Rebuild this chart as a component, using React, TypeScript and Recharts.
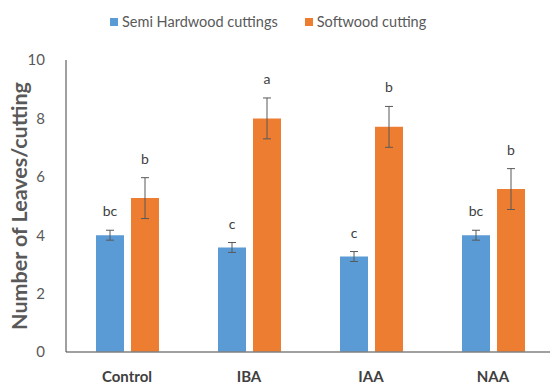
import {
  BarChart,
  Bar,
  XAxis,
  YAxis,
  ErrorBar,
  LabelList,
} from "recharts";

// ─── Data
const treatments = ["Control", "IBA", "IAA", "NAA"];
const semiHardwood = [4.0, 3.58, 3.27, 4.0];
const semiHardwoodErr = [0.17, 0.17, 0.17, 0.17];
const semiHardwoodLetters = ["bc", "c", "c", "bc"];
const softwood = [5.27, 8.0, 7.71, 5.58];
const softwoodErr = [0.7, 0.7, 0.7, 0.7];
const softwoodLetters = ["b", "a", "b", "b"];
const yTicks = [0, 2, 4, 6, 8, 10];

const BLUE = "#5B9BD5";
const ORANGE = "#ED7D31";
const FONT = "Lato, 'Open Sans', sans-serif";

const chartData = treatments.map((name, i) => ({
  name,
  semi: semiHardwood[i],
  semiErr: semiHardwoodErr[i],
  soft: softwood[i],
  softErr: softwoodErr[i],
}));

const TOP = 60;
const PLOT_H = 292;
const Y_MAX = 10;
const PX_PER_UNIT = PLOT_H / Y_MAX;

// ─── Significance letters above the error bars
const makeLetter =
  (letters: string[], errs: number[]) =>
  (props: any) => {
    const { x, y, width, index } = props;
    const top = y - errs[index] * PX_PER_UNIT - 14;
    return (
      <text
        x={x + width / 2}
        y={top}
        textAnchor="middle"
        fontSize={14}
        fontFamily={FONT}
        fill="#404040"
      >
        {letters[index]}
      </text>
    );
  };

// ─── Legend
const LegendBox = () => (
  <div
    style={{
      position: "absolute",
      top: 12,
      left: 110,
      display: "flex",
      gap: 27,
      fontFamily: FONT,
      fontSize: 14.5,
      color: "#595959",
      lineHeight: "20px",
    }}
  >
    {[
      { label: "Semi Hardwood cuttings", color: BLUE },
      { label: "Softwood cutting", color: ORANGE },
    ].map((it) => (
      <span key={it.label} style={{ display: "flex", alignItems: "center" }}>
        <span
          style={{
            width: 8,
            height: 8,
            background: it.color,
            display: "inline-block",
            marginRight: 4,
          }}
        />
        {it.label}
      </span>
    ))}
  </div>
);

export default function App() {
  return (
    <div
      style={{
        position: "absolute",
        left: 0,
        top: 0,
        width: 550,
        height: 385,
        overflow: "hidden",
        background: "#fff",
      }}
    >
      <LegendBox />
      <BarChart
        width={556}
        height={385}
        data={chartData}
        margin={{ top: TOP, right: 2, bottom: 0, left: 0 }}
        barSize={28}
        barGap={7}
      >
        <XAxis
          dataKey="name"
          height={33}
          tickLine={false}
          axisLine={{ stroke: "#808080", strokeWidth: 1.5 }}
          tick={{
            fontSize: 15,
            fontWeight: 700,
            fill: "#404040",
            fontFamily: FONT,
          }}
          tickMargin={13}
        />
        <YAxis
          width={66}
          domain={[0, Y_MAX]}
          ticks={yTicks}
          tickLine={false}
          axisLine={{ stroke: "#404040" }}
          tick={{ fontSize: 15, fill: "#595959", fontFamily: FONT }}
          tickMargin={15}
          label={{
            value: "Number of Leaves/cutting",
            angle: -90,
            position: "insideLeft",
            dx: 14,
            dy: 0,
            style: {
              textAnchor: "middle",
              fontSize: 21.5,
              fontWeight: 700,
              fill: "#595959",
              fontFamily: FONT,
            },
          }}
        />
        <Bar dataKey="semi" fill={BLUE} isAnimationActive={false}>
          <ErrorBar
            dataKey="semiErr"
            width={4}
            stroke="#595959"
            strokeWidth={1}
          />
          <LabelList
            dataKey="semi"
            content={makeLetter(semiHardwoodLetters, semiHardwoodErr)}
          />
        </Bar>
        <Bar dataKey="soft" fill={ORANGE} isAnimationActive={false}>
          <ErrorBar
            dataKey="softErr"
            width={4}
            stroke="#595959"
            strokeWidth={1}
          />
          <LabelList
            dataKey="soft"
            content={makeLetter(softwoodLetters, softwoodErr)}
          />
        </Bar>
      </BarChart>
    </div>
  );
}
